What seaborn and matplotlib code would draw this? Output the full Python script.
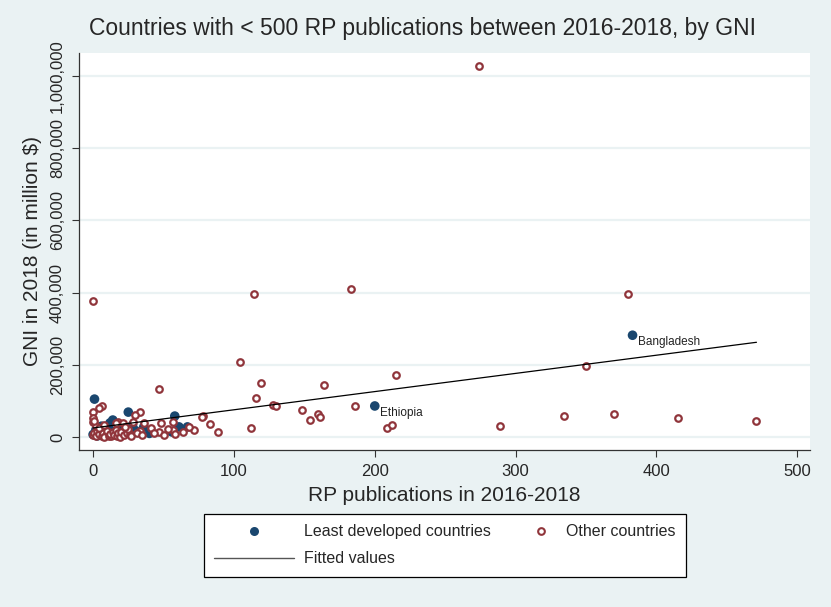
import numpy as np
import pandas as pd
import matplotlib
matplotlib.use("Agg")
import matplotlib.pyplot as plt
from matplotlib.lines import Line2D
from matplotlib.legend_handler import HandlerLine2D
from matplotlib.ticker import FuncFormatter
import seaborn as sns

# -----------------------
# Data
# -----------------------
ldc_pubs = [200, 383, 1, 25, 58, 14, 12, 28, 36, 61, 67, 56,
            2, 5, 8, 10, 15, 18, 20, 3, 22, 6, 30, 40, 11, 0]
ldc_gni = [86000, 282000, 105000, 69000, 58000, 47000, 39000, 33000, 28000, 28000, 28000, 14000,
           20000, 12000, 25000, 8000, 15000, 5000, 22000, 3000, 10000, 30000, 18000, 10000, 25000, 7000]
ldc_names = ["Ethiopia", "Bangladesh"] + [""] * 24

oth_pubs = [274, 0, 114, 183, 380, 104, 350, 215, 47, 119, 164, 116, 78, 77, 128, 130,
            148, 154, 160, 161, 186, 112, 209, 212, 289, 334, 370, 415, 471,
            6, 4, 0, 0, 0, 33, 30, 28, 57, 57, 58, 18, 16, 21, 36, 48, 47, 41, 53, 33,
            83, 89, 72, 64, 68,
            0, 1, 2, 3, 4, 5, 6, 7, 9, 8, 10, 11, 13, 12, 14, 15, 17, 16, 18, 19,
            20, 22, 24, 26, 2, 4, 8, 1, 25, 23, 27, 31, 35, 43, 50]
oth_gni = [1027000, 378000, 395000, 410000, 396000, 208000, 196000, 172000, 133000, 150000,
           143000, 108000, 58000, 55000, 89000, 87000, 74000, 46000, 63000, 56000, 86000,
           25000, 26000, 34000, 30000, 57000, 64000, 52000, 45000,
           86000, 80000, 69000, 53000, 42000, 69000, 61000, 42000, 42000, 19000, 8000,
           42000, 39000, 39000, 39000, 39000, 14000, 25000, 22000, 17000,
           35000, 14000, 19000, 14000, 27000,
           5000, 11000, 2000, 16000, 7000, 21000, 3000, 12000, 6000, 1000, 18000, 4000,
           2000, 9000, 13000, 6000, 3000, 20000, 10000, 1000, 15000, 5000, 12000, 8000,
           30000, 25000, 33000, 45000, 22000, 28000, 3000, 10000, 6000, 11000, 5000]

ldc = pd.DataFrame({"pubs": ldc_pubs, "gni": ldc_gni, "name": ldc_names})
oth = pd.DataFrame({"pubs": oth_pubs, "gni": oth_gni})
allc = pd.concat([ldc[["pubs", "gni"]], oth], ignore_index=True)

# linear fit on all countries
slope, intercept = np.polyfit(allc["pubs"], allc["gni"], 1)
fit_x = np.array([allc["pubs"].min(), allc["pubs"].max()])
fit = pd.DataFrame({"pubs": fit_x, "gni": intercept + slope * fit_x})

# -----------------------
# Style
# -----------------------
BG = "#EAF2F3"
NAVY = "#1a476f"
MAROON = "#90353b"
sns.set_style("white")
plt.rcParams["font.family"] = ["Liberation Sans", "DejaVu Sans"]

fig = plt.figure(figsize=(8.31, 6.07), dpi=100, facecolor=BG)
ax = fig.add_axes([79 / 831, 1 - 450 / 607, 731 / 831, 397 / 607])
ax.set_facecolor("white")

sns.scatterplot(data=ldc, x="pubs", y="gni", ax=ax, color=NAVY, s=48,
                edgecolor="none", legend=False, zorder=3)
sns.scatterplot(data=oth, x="pubs", y="gni", ax=ax, facecolor="white", s=22,
                edgecolor=MAROON, linewidth=1.6, legend=False, zorder=4)
sns.lineplot(data=fit, x="pubs", y="gni", ax=ax, color="black", linewidth=0.9, zorder=5)

for _, r in ldc[ldc["name"] != ""].iterrows():
    ax.annotate(r["name"], (r["pubs"], r["gni"]), xytext=(4, -5), textcoords="offset points",
                fontsize=8.5, va="center", ha="left", color="#222222", zorder=6)

ax.set_xlim(-10, 509)
ax.set_ylim(-36000, 1064000)
ax.set_xticks([0, 100, 200, 300, 400, 500])
ax.set_yticks([0, 200000, 400000, 600000, 800000, 1000000])
ax.yaxis.set_major_formatter(FuncFormatter(lambda v, p: f"{int(v):,}"))
ax.grid(axis="y", color=BG, linewidth=1.6)
ax.grid(axis="x", visible=False)
ax.set_axisbelow(True)

for s in ["top", "right"]:
    ax.spines[s].set_visible(False)
for s in ["left", "bottom"]:
    ax.spines[s].set_color("#333333")
    ax.spines[s].set_linewidth(0.9)

ax.tick_params(axis="both", direction="out", length=5, width=0.8, color="#333333",
               labelsize=12, pad=5)
ax.tick_params(axis="x", bottom=True)
ax.tick_params(axis="y", left=True)
for lab in ax.get_yticklabels():
    lab.set_rotation(90)
    lab.set_va("center")

ax.set_xlabel("RP publications in 2016-2018", fontsize=15, labelpad=5)
ax.set_ylabel("GNI in 2018 (in million $)", fontsize=15, labelpad=6)

fig.text(422 / 831, 1 - 28 / 607, "Countries with < 500 RP publications between 2016-2018, by GNI",
         ha="center", va="center", fontsize=16.5)


# legend: the "Other countries" marker sits near its label
# (with one point the marker goes in the middle of xdata, so shift xdata right)
class RightMarker(HandlerLine2D):
    def get_xdata(self, legend, xdescent, ydescent, width, height, fontsize):
        xdata = np.array([-xdescent + 0.62 * width, -xdescent + width])
        return xdata, xdata[:1]


h_ldc = Line2D([], [], marker="o", linestyle="none", color=NAVY, markersize=6.5,
               markeredgewidth=0)
h_fit = Line2D([], [], color="#555555", linewidth=1.0)
h_oth = Line2D([], [], marker="o", linestyle="none", markerfacecolor="white",
               markeredgecolor=MAROON, markersize=4.8, markeredgewidth=1.5)
leg = fig.legend([h_ldc, h_fit, h_oth], ["Least developed countries", "Fitted values", "Other countries"],
                 ncol=2, loc="upper left", mode="expand",
                 bbox_to_anchor=(204 / 831, 1 - 578 / 607, 482 / 831, 64 / 607),
                 frameon=True, fancybox=False, edgecolor="black", facecolor="white",
                 framealpha=1, handlelength=5.0, handletextpad=0.6,
                 labelspacing=0.75, borderpad=0.65, columnspacing=1.0, borderaxespad=0,
                 prop={"size": 11.5},
                 handler_map={h_oth: RightMarker()})
leg.get_frame().set_linewidth(0.9)

fig.savefig("out.png", dpi=100, facecolor=BG)
